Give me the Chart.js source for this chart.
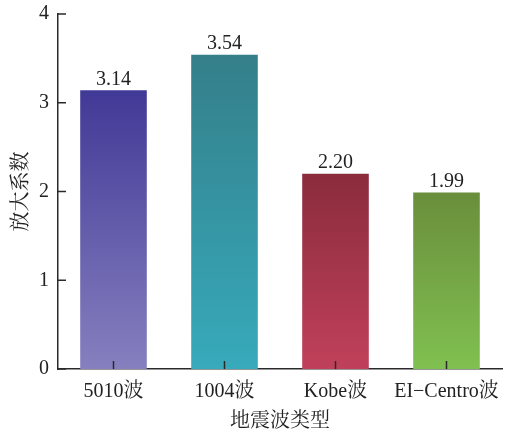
<!DOCTYPE html>
<html>
<head>
<meta charset="utf-8">
<script src="https://cdn.jsdelivr.net/npm/chart.js@4/dist/chart.umd.min.js"></script>
<style>
  html, body { margin: 0; padding: 0; background: #ffffff; }
  #wrap { width: 516px; height: 430px; }
</style>
</head>
<body>
<div id="wrap"><canvas id="c" width="516" height="430"></canvas></div>
<script>
// Amplification factor per earthquake wave
const categories = ['5010波', '1004波', 'Kobe波', 'EI\u2212Centro波'];
const values = [3.14, 3.54, 2.20, 1.99];
const valueLabels = ['3.14', '3.54', '2.20', '1.99'];
const yTicks = [0, 1, 2, 3, 4];

// gradient colours (top -> bottom) for each bar
const topColors = ['#413996', '#347f8a', '#8a2c3c', '#6a8e3c'];
const bottomColors = ['#8680bf', '#37aabb', '#c0405a', '#80c050'];

const FONT = '"Liberation Serif", "Times New Roman", "Noto Serif CJK SC", "Noto Sans CJK SC", serif';
const AXIS_COLOR = '#2a2a2a';

// Tick marks pointing into the plot area
const innerTicks = {
  id: 'innerTicks',
  afterDatasetsDraw(chart) {
    const ctx = chart.ctx;
    const xs = chart.scales.x, ys = chart.scales.y;
    const area = chart.chartArea;
    ctx.save();
    ctx.strokeStyle = AXIS_COLOR;
    ctx.lineWidth = 1.5;
    ctx.beginPath();
    ys.ticks.forEach((t, i) => {
      const py = ys.getPixelForTick(i);
      ctx.moveTo(area.left, py);
      ctx.lineTo(area.left + 8, py);
    });
    xs.ticks.forEach((t, i) => {
      const px = xs.getPixelForTick(i);
      ctx.moveTo(px, area.bottom);
      ctx.lineTo(px, area.bottom - 8);
    });
    ctx.stroke();
    ctx.restore();
  }
};

// Value written above each bar
const barValues = {
  id: 'barValues',
  afterDatasetsDraw(chart) {
    const ctx = chart.ctx;
    const meta = chart.getDatasetMeta(0);
    ctx.save();
    ctx.font = '20px ' + FONT;
    ctx.fillStyle = '#222222';
    ctx.textAlign = 'center';
    ctx.textBaseline = 'bottom';
    meta.data.forEach((bar, i) => {
      ctx.fillText(valueLabels[i], bar.x, bar.y - 1);
    });
    ctx.restore();
  }
};

new Chart(document.getElementById('c'), {
  type: 'bar',
  data: {
    labels: categories,
    datasets: [{
      data: values,
      borderWidth: 0,
      barPercentage: 0.6,
      categoryPercentage: 1.0,
      backgroundColor(context) {
        const chart = context.chart;
        const i = context.dataIndex;
        if (!chart.chartArea) return topColors[i];
        const y = chart.scales.y;
        const g = chart.ctx.createLinearGradient(0, y.getPixelForValue(values[i]), 0, y.getPixelForValue(0));
        g.addColorStop(0, topColors[i]);
        g.addColorStop(1, bottomColors[i]);
        return g;
      }
    }]
  },
  options: {
    responsive: false,
    animation: false,
    devicePixelRatio: 1,
    layout: { padding: { top: 14, right: 14, left: 0, bottom: 0 } },
    plugins: {
      legend: { display: false },
      tooltip: { enabled: false }
    },
    scales: {
      x: {
        afterFit(scale) { scale.height = 61; scale.paddingLeft = 0; scale.paddingRight = 0; },
        grid: { display: false, drawTicks: false },
        border: { display: true, color: AXIS_COLOR, width: 1.5 },
        ticks: { color: '#222222', font: { family: FONT, size: 20 }, padding: 11 },
        title: { display: true, text: '地震波类型', color: '#222222', font: { family: FONT, size: 20 }, padding: { top: 0, bottom: -4 } }
      },
      y: {
        min: 0,
        max: 4,
        afterBuildTicks(scale) { scale.ticks = yTicks.map(v => ({ value: v })); },
        afterFit(scale) { scale.width = 58; scale.paddingTop = 0; scale.paddingBottom = 0; },
        grid: { display: false, drawTicks: false },
        border: { display: true, color: AXIS_COLOR, width: 1.5 },
        ticks: { color: '#222222', font: { family: FONT, size: 20 }, padding: 9 },
        title: { display: true, text: '放大系数', color: '#222222', font: { family: FONT, size: 20 }, padding: { top: 10, bottom: 0 } }
      }
    }
  },
  plugins: [innerTicks, barValues]
});
</script>
</body>
</html>
